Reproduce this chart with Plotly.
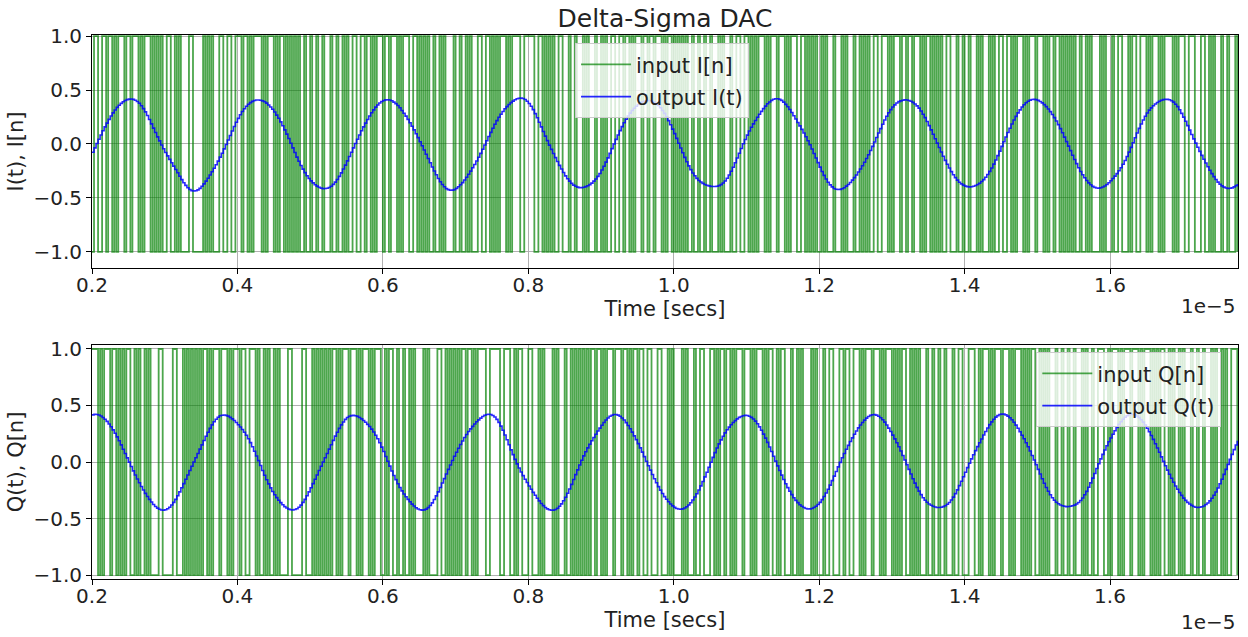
import numpy as np
import plotly.graph_objects as go
from plotly.subplots import make_subplots

# Simulation parameters for the I/Q delta-sigma DAC
fs = 36e6              # modulator sample rate [Hz]
tone_freq = 562e3      # test tone frequency [Hz]
tone_amp = 0.42        # test tone amplitude
tone_t0 = 2.055e-6     # time of the sine zero crossing [s]
view_start = 2.0e-6    # start of the plotted window [s]
view_stop = 17.76e-6   # end of the plotted window [s]
sim_stop = 20.0e-6     # simulate a little past the window so the filter settles

x_ticks = [0.2e-5, 0.4e-5, 0.6e-5, 0.8e-5, 1.0e-5, 1.2e-5, 1.4e-5, 1.6e-5]
x_tick_text = ["0.2", "0.4", "0.6", "0.8", "1.0", "1.2", "1.4", "1.6"]
y_ticks = [-1.0, -0.5, 0.0, 0.5, 1.0]
y_tick_text = ["\u22121.0", "\u22120.5", "0.0", "0.5", "1.0"]

n = np.arange(int(round(sim_stop * fs)) + 1)
t = n / fs
phase = 2 * np.pi * tone_freq * (t - tone_t0)
i_target = tone_amp * np.sin(phase)
q_target = tone_amp * np.cos(phase)


def delta_sigma(x):
    """Second-order 1-bit delta-sigma modulator."""
    i1 = i2 = 0.0
    prev = 0.0
    y = np.empty_like(x)
    for k, v in enumerate(x):
        i1 += v - prev
        i2 += i1 - prev
        prev = 1.0 if i2 >= 0 else -1.0
        y[k] = prev
    return y


def reconstruct(bits, fc=1.7e6, taps=45):
    """Zero-phase windowed-sinc low-pass reconstruction filter."""
    k = np.arange(taps) - (taps - 1) / 2
    h = np.sinc(2 * fc / fs * k) * np.hamming(taps)
    h /= h.sum()
    return np.convolve(bits, h, mode="same")


i_bits = delta_sigma(i_target)
q_bits = delta_sigma(q_target)
i_out = reconstruct(i_bits)
q_out = reconstruct(q_bits)

sel = (t >= view_start - 1e-12) & (t <= view_stop + 1e-12)
t_v = t[sel]

fig = make_subplots(rows=2, cols=1, vertical_spacing=0.1416)

GREEN = "rgba(0,128,0,0.70)"
BLUE = "rgba(0,0,255,0.85)"
FONT = "DejaVu Sans"
INK = "#222"

fig.add_trace(go.Scatter(x=t_v, y=i_bits[sel], mode="lines", line=dict(color=GREEN, width=1.8, shape="hv"),
                         name="input I[n]", legend="legend", legendgroup="a"), row=1, col=1)
fig.add_trace(go.Scatter(x=t_v, y=i_out[sel], mode="lines", line=dict(color=BLUE, width=1.6, shape="hv"),
                         name="output I(t)", legend="legend", legendgroup="b"), row=1, col=1)
fig.add_trace(go.Scatter(x=t_v, y=q_bits[sel], mode="lines", line=dict(color=GREEN, width=1.8, shape="hv"),
                         name="input Q[n]", legend="legend2", legendgroup="c"), row=2, col=1)
fig.add_trace(go.Scatter(x=t_v, y=q_out[sel], mode="lines", line=dict(color=BLUE, width=1.6, shape="hv"),
                         name="output Q(t)", legend="legend2", legendgroup="d"), row=2, col=1)

axis_common = dict(showline=True, linecolor="black", linewidth=1, mirror=True,
                   ticks="outside", ticklen=5, tickcolor="black", tickwidth=1,
                   showgrid=True, gridcolor="#b0b0b0", gridwidth=0.8, zeroline=False,
                   tickfont=dict(family=FONT, size=20, color=INK))

x_range = [view_start, view_stop]
for r in (1, 2):
    fig.update_xaxes(range=x_range, tickvals=x_ticks, ticktext=x_tick_text, ticklabelstandoff=-6,
                     title=dict(text="Time [secs]", font=dict(family=FONT, size=21, color=INK), standoff=0),
                     row=r, col=1, **axis_common)
fig.update_yaxes(range=[-1.15, 1.01], tickvals=y_ticks, ticktext=y_tick_text,
                 title=dict(text="I(t), I[n]", font=dict(family=FONT, size=21, color=INK), standoff=4),
                 row=1, col=1, **axis_common)
fig.update_yaxes(range=[-1.035, 1.035], tickvals=y_ticks, ticktext=y_tick_text,
                 title=dict(text="Q(t), Q[n]", font=dict(family=FONT, size=21, color=INK), standoff=4),
                 row=2, col=1, **axis_common)

fig.update_layout(
    xaxis=dict(domain=[0, 1]), xaxis2=dict(domain=[0, 1]),
    yaxis=dict(domain=[0.5717, 1.0]), yaxis2=dict(domain=[0.0, 0.4301]),
)

legend_common = dict(bgcolor="rgba(255,255,255,0.8)", bordercolor="#cccccc", borderwidth=1,
                     font=dict(family=FONT, size=21, color=INK), tracegroupgap=2, itemwidth=50,
                     xanchor="left", yanchor="top")
fig.update_layout(
    width=1248, height=637,
    margin=dict(l=92, r=10, t=35, b=58),
    paper_bgcolor="white", plot_bgcolor="white",
    title=dict(text="Delta-Sigma DAC", x=665 / 1248, xanchor="center",
               y=1 - 18 / 637, yanchor="middle", font=dict(family=FONT, size=25, color=INK)),
    legend=dict(x=0.4215, y=0.985, **legend_common),
    legend2=dict(x=0.824, y=0.417, **legend_common),
    annotations=[
        dict(text="1e\u22125", xref="paper", yref="paper", x=1.0, y=(579 - 306) / 544,
             xanchor="right", yanchor="middle", showarrow=False,
             font=dict(family=FONT, size=20, color=INK)),
        dict(text="1e\u22125", xref="paper", yref="paper", x=1.0, y=(579 - 622) / 544,
             xanchor="right", yanchor="middle", showarrow=False,
             font=dict(family=FONT, size=20, color=INK)),
    ],
)

fig.write_html("out.html")
